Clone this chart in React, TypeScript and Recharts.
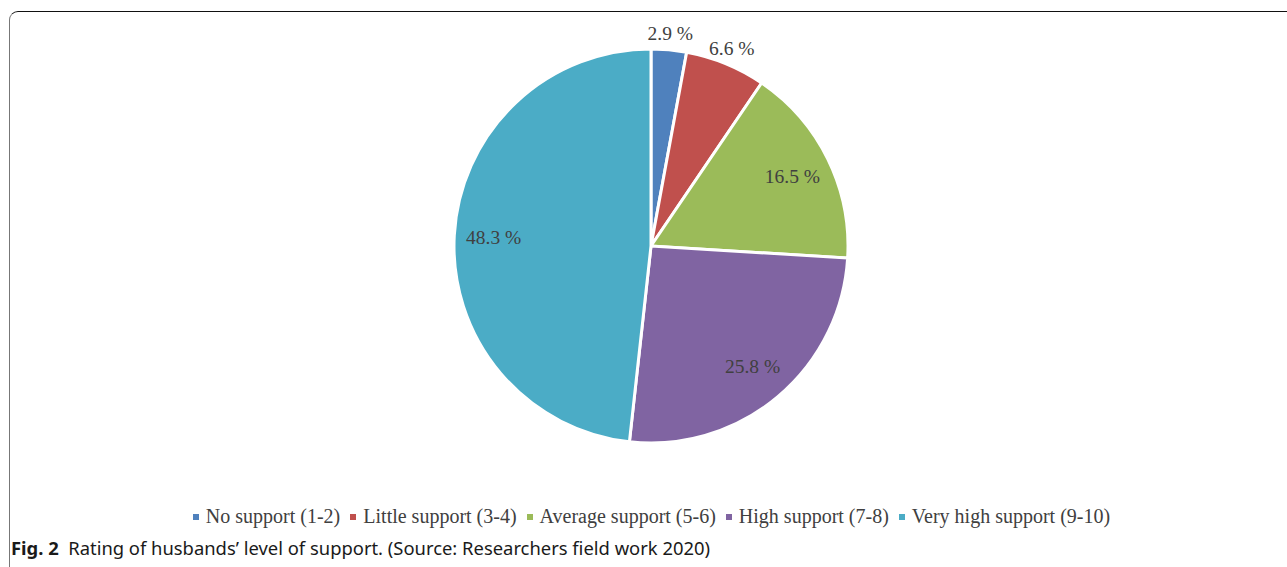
import React from 'react';
import { PieChart, Pie, Cell, Legend } from 'recharts';

// Share of respondents by husbands' support rating
const CATEGORIES = [
  'No support (1-2)',
  'Little support (3-4)',
  'Average support (5-6)',
  'High support (7-8)',
  'Very high support (9-10)',
];
const PERCENTS = [2.9, 6.6, 16.5, 25.8, 48.3];
const COLORS = ['#4F81BD', '#C0504D', '#9BBB59', '#8064A2', '#4BACC6'];

const data = CATEGORIES.map((name, i) => ({ name, value: PERCENTS[i] }));

const RAD = Math.PI / 180;
const SERIF = "'Liberation Serif', 'Times New Roman', serif";

// small slices get their label outside, big ones inside
const renderLabel = (props: any) => {
  const { cx, cy, midAngle, outerRadius, percent, value } = props;
  const r = percent < 0.1 ? outerRadius + 16 : outerRadius * 0.8;
  const x = cx + r * Math.cos(-midAngle * RAD);
  const y = cy + r * Math.sin(-midAngle * RAD);
  return (
    <text
      x={x}
      y={y}
      fill="#404040"
      fontSize={19.5}
      fontFamily={SERIF}
      textAnchor="middle"
      dominantBaseline="central"
    >
      {`${value} %`}
    </text>
  );
};

// legend kept in data order (recharts sorts by name otherwise)
const renderLegend = () => (
  <div
    style={{
      display: 'flex',
      justifyContent: 'center',
      fontFamily: SERIF,
      fontSize: 20,
      color: '#404040',
      whiteSpace: 'nowrap',
    }}
  >
    {CATEGORIES.map((name, i) => (
      <span
        key={name}
        style={{ display: 'inline-flex', alignItems: 'center', marginRight: i < CATEGORIES.length - 1 ? 10 : 0 }}
      >
        <span
          style={{
            display: 'inline-block',
            width: 6,
            height: 6,
            background: COLORS[i],
            marginRight: 7,
          }}
        />
        {name}
      </span>
    ))}
  </div>
);

export default function App() {
  return (
    <div
      style={{
        position: 'absolute',
        left: 0,
        top: 0,
        width: 1287,
        height: 567,
        background: '#fff',
        overflow: 'hidden',
      }}
    >
      <div
        style={{
          position: 'absolute',
          left: 9,
          top: 11,
          width: 1300,
          height: 600,
          borderTop: '1.5px solid #111',
          borderLeft: '1.5px solid #777',
          borderTopLeftRadius: 9,
        }}
      />
      <div style={{ position: 'absolute', left: 0, top: 0 }}>
        <PieChart width={1287} height={535} margin={{ top: 0, right: 0, bottom: 0, left: 0 }}>
          <Pie
            data={data}
            dataKey="value"
            nameKey="name"
            cx={651}
            cy={246}
            outerRadius={197}
            startAngle={90}
            endAngle={-270}
            stroke="#fff"
            strokeWidth={3}
            label={renderLabel}
            labelLine={false}
            isAnimationActive={false}
          >
            {data.map((d, i) => (
              <Cell key={d.name} fill={COLORS[i]} />
            ))}
          </Pie>
          <Legend
            content={renderLegend}
            wrapperStyle={{ top: 505, left: 8, width: 1287 }}
          />
        </PieChart>
      </div>
      <div
        style={{
          position: 'absolute',
          left: 11,
          top: 535,
          fontFamily: "'Noto Sans', sans-serif",
          fontSize: 18.4,
          color: '#1a1a1a',
          whiteSpace: 'nowrap',
        }}
      >
        <b>Fig. 2</b>&nbsp; Rating of husbands’ level of support. (Source: Researchers field work 2020)
      </div>
    </div>
  );
}
